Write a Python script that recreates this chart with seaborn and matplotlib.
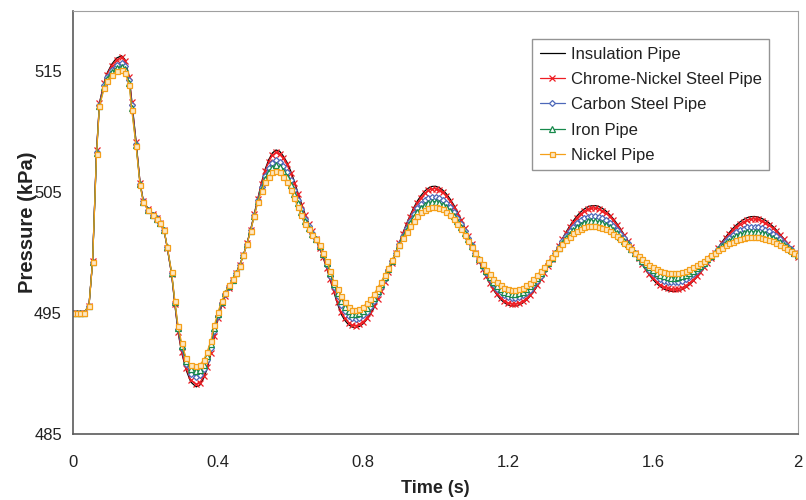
import matplotlib
matplotlib.use("Agg")
import matplotlib.pyplot as plt
import seaborn as sns

# ---- data ----
time_s = [
    0.0, 0.01, 0.02, 0.03, 0.044, 0.054, 0.065, 0.073, 0.086, 0.093,
    0.107, 0.12, 0.134, 0.143, 0.155, 0.162, 0.174, 0.185, 0.194, 0.208,
    0.222, 0.231, 0.24, 0.251, 0.26, 0.272, 0.281, 0.29, 0.30, 0.312, 0.325,
    0.34, 0.35, 0.36, 0.37, 0.38, 0.39, 0.40, 0.41, 0.42, 0.43,
    0.44, 0.45, 0.46, 0.47, 0.48, 0.49, 0.50, 0.51, 0.52, 0.53,
    0.54, 0.55, 0.56, 0.57, 0.58, 0.59, 0.60, 0.61, 0.62, 0.63,
    0.64, 0.65, 0.66, 0.67, 0.68, 0.69, 0.70, 0.71, 0.72, 0.73,
    0.74, 0.75, 0.76, 0.77, 0.78, 0.79, 0.80, 0.81, 0.82, 0.83,
    0.84, 0.85, 0.86, 0.87, 0.88, 0.89, 0.90, 0.91, 0.92, 0.93,
    0.94, 0.95, 0.96, 0.97, 0.98, 0.99, 1.00, 1.01, 1.02, 1.03,
    1.04, 1.05, 1.06, 1.07, 1.08, 1.09, 1.10, 1.11, 1.12, 1.13,
    1.14, 1.15, 1.16, 1.17, 1.18, 1.19, 1.20, 1.21, 1.22, 1.23,
    1.24, 1.25, 1.26, 1.27, 1.28, 1.29, 1.30, 1.31, 1.32, 1.33,
    1.34, 1.35, 1.36, 1.37, 1.38, 1.39, 1.40, 1.41, 1.42, 1.43,
    1.44, 1.45, 1.46, 1.47, 1.48, 1.49, 1.50, 1.51, 1.52, 1.53,
    1.54, 1.55, 1.56, 1.57, 1.58, 1.59, 1.60, 1.61, 1.62, 1.63,
    1.64, 1.65, 1.66, 1.67, 1.68, 1.69, 1.70, 1.71, 1.72, 1.73,
    1.74, 1.75, 1.76, 1.77, 1.78, 1.79, 1.80, 1.81, 1.82, 1.83,
    1.84, 1.85, 1.86, 1.87, 1.88, 1.89, 1.90, 1.91, 1.92, 1.93,
    1.94, 1.95, 1.96, 1.97, 1.98, 1.99, 2.00,
]

insulation = [
    495.0, 495.0, 495.0, 495.05, 495.6, 499.3, 508.5, 512.4, 514.1, 514.8,
    515.6, 516.1, 516.3, 516.0, 514.6, 512.6, 509.2, 505.8, 504.3, 503.6,
    503.2, 502.9, 502.5, 501.9, 500.4, 498.2, 495.7, 493.4, 491.7, 490.3, 489.3,
    488.9, 489.05, 489.6, 490.4, 491.6, 493.0, 494.5, 495.6, 496.4, 497.1,
    497.7, 498.3, 499.0, 499.8, 500.8, 501.9, 503.2, 504.5, 505.8, 506.9,
    507.7, 508.25, 508.5, 508.4, 508.0, 507.5, 506.8, 505.95, 505.0, 504.1,
    503.2, 502.45, 501.8, 501.1, 500.4, 499.6, 498.7, 497.7, 496.7, 495.75,
    494.9, 494.4, 494.05, 493.85, 493.8, 493.90, 494.11, 494.45, 494.89, 495.43,
    496.06, 496.77, 497.53, 498.33, 499.16, 500.0, 500.83, 501.63, 502.39, 503.09,
    503.73, 504.28, 504.73, 505.09, 505.34, 505.48, 505.50, 505.39, 505.18, 504.87,
    504.46, 503.97, 503.41, 502.78, 502.12, 501.42, 500.71, 500.0, 499.30, 498.63,
    498.01, 497.43, 496.92, 496.49, 496.13, 495.86, 495.68, 495.60, 495.60, 495.67,
    495.82, 496.06, 496.37, 496.76, 497.21, 497.71, 498.25, 498.82, 499.41, 500.0,
    500.59, 501.16, 501.70, 502.19, 502.64, 503.03, 503.36, 503.61, 503.79, 503.88,
    503.90, 503.83, 503.68, 503.46, 503.17, 502.83, 502.43, 501.99, 501.51, 501.02,
    500.51, 500.0, 499.50, 499.02, 498.57, 498.15, 497.78, 497.46, 497.20, 497.00,
    496.87, 496.80, 496.80, 496.84, 496.95, 497.11, 497.34, 497.62, 497.94, 498.30,
    498.70, 499.12, 499.56, 500.0, 500.44, 500.87, 501.28, 501.66, 502.00, 502.30,
    502.55, 502.75, 502.90, 502.98, 503.00, 502.95, 502.84, 502.68, 502.46, 502.20,
    501.89, 501.55, 501.19, 500.80, 500.40, 500.0, 499.60,
]

chrome_nickel = [
    495.0, 495.0, 495.0, 495.05, 495.6, 499.29, 508.46, 512.36, 514.04, 514.73,
    515.49, 515.97, 516.16, 515.87, 514.52, 512.5, 509.15, 505.78, 504.29, 503.59,
    503.19, 502.89, 502.5, 501.9, 500.41, 498.22, 495.74, 493.46, 491.8, 490.42, 489.47,
    489.1, 489.25, 489.78, 490.57, 491.73, 493.12, 494.57, 495.65, 496.44, 497.12,
    497.71, 498.3, 498.99, 499.8, 500.79, 501.89, 503.18, 504.46, 505.72, 506.77,
    507.53, 508.06, 508.3, 508.19, 507.8, 507.3, 506.61, 505.78, 504.86, 503.98,
    503.1, 502.39, 501.76, 501.1, 500.42, 499.64, 498.77, 497.8, 496.81, 495.9,
    495.08, 494.58, 494.22, 494.02, 493.97, 494.07, 494.28, 494.61, 495.04, 495.57,
    496.18, 496.87, 497.61, 498.38, 499.19, 500.0, 500.8, 501.58, 502.31, 502.99,
    503.6, 504.13, 504.56, 504.91, 505.15, 505.28, 505.3, 505.19, 504.99, 504.69,
    504.3, 503.82, 503.28, 502.68, 502.04, 501.37, 500.68, 500.0, 499.33, 498.68,
    498.08, 497.52, 497.03, 496.62, 496.27, 496.01, 495.83, 495.76, 495.76, 495.83,
    495.97, 496.21, 496.51, 496.89, 497.32, 497.80, 498.32, 498.87, 499.44, 500.0,
    500.56, 501.11, 501.62, 502.09, 502.52, 502.88, 503.2, 503.43, 503.6, 503.68,
    503.7, 503.63, 503.49, 503.28, 503.0, 502.68, 502.3, 501.88, 501.43, 500.96,
    500.48, 500.0, 499.53, 499.07, 498.65, 498.25, 497.9, 497.60, 497.35, 497.17,
    497.05, 496.98, 496.98, 497.02, 497.12, 497.28, 497.49, 497.76, 498.06, 498.40,
    498.78, 499.17, 499.59, 500.0, 500.41, 500.81, 501.2, 501.55, 501.87, 502.15,
    502.38, 502.57, 502.71, 502.78, 502.8, 502.75, 502.65, 502.50, 502.29, 502.05,
    501.76, 501.44, 501.11, 500.74, 500.37, 500.0, 499.63,
]

carbon_steel = [
    495.0, 495.0, 495.0, 495.05, 495.6, 499.25, 508.35, 512.25, 513.85, 514.5,
    515.15, 515.55, 515.7, 515.45, 514.25, 512.2, 509.0, 505.7, 504.25, 503.55,
    503.15, 502.85, 502.5, 501.9, 500.45, 498.3, 495.85, 493.65, 492.1, 490.8, 490.0,
    489.75, 489.9, 490.35, 491.1, 492.15, 493.5, 494.8, 495.8, 496.55, 497.2,
    497.75, 498.3, 498.95, 499.8, 500.75, 501.85, 503.1, 504.35, 505.45, 506.38,
    507.0, 507.45, 507.65, 507.53, 507.15, 506.68, 506.0, 505.23, 504.4, 503.6,
    502.8, 502.2, 501.65, 501.1, 500.5, 499.78, 499.0, 498.1, 497.15, 496.38,
    495.65, 495.15, 494.78, 494.58, 494.53, 494.62, 494.82, 495.13, 495.52, 496.0,
    496.56, 497.19, 497.85, 498.55, 499.28, 500.0, 500.72, 501.41, 502.06, 502.66,
    503.2, 503.66, 504.04, 504.33, 504.54, 504.64, 504.65, 504.56, 504.38, 504.12,
    503.78, 503.36, 502.89, 502.36, 501.8, 501.21, 500.61, 500.0, 499.41, 498.84,
    498.31, 497.82, 497.38, 497.02, 496.71, 496.48, 496.32, 496.25, 496.25, 496.32,
    496.46, 496.68, 496.95, 497.29, 497.67, 498.10, 498.55, 499.03, 499.52, 500.0,
    500.48, 500.94, 501.38, 501.77, 502.12, 502.43, 502.68, 502.86, 502.99, 503.05,
    503.05, 502.99, 502.88, 502.70, 502.47, 502.21, 501.89, 501.55, 501.18, 500.79,
    500.4, 500.0, 499.62, 499.24, 498.9, 498.58, 498.29, 498.05, 497.85, 497.70,
    497.6, 497.55, 497.55, 497.59, 497.68, 497.81, 497.99, 498.20, 498.45, 498.73,
    499.03, 499.35, 499.67, 500.0, 500.33, 500.64, 500.94, 501.22, 501.46, 501.68,
    501.86, 501.99, 502.09, 502.14, 502.15, 502.11, 502.03, 501.92, 501.76, 501.57,
    501.35, 501.10, 500.84, 500.57, 500.29, 500.0, 499.72,
]

iron = [
    495.0, 495.0, 495.0, 495.05, 495.6, 499.23, 508.28, 512.18, 513.72, 514.35,
    514.92, 515.27, 515.4, 515.17, 514.08, 512.0, 508.9, 505.65, 504.22, 503.52,
    503.12, 502.82, 502.5, 501.9, 500.48, 498.35, 495.93, 493.78, 492.3, 491.05, 490.35,
    490.18, 490.33, 490.73, 491.45, 492.43, 493.75, 494.95, 495.9, 496.63, 497.25,
    497.78, 498.3, 498.93, 499.8, 500.73, 501.83, 503.05, 504.28, 505.28, 506.11,
    506.65, 507.05, 507.23, 507.09, 506.73, 506.26, 505.6, 504.86, 504.1, 503.35,
    502.6, 502.08, 501.58, 501.1, 500.55, 499.86, 499.15, 498.3, 497.38, 496.69,
    496.03, 495.53, 495.14, 494.94, 494.89, 494.98, 495.18, 495.46, 495.84, 496.29,
    496.81, 497.39, 498.01, 498.66, 499.33, 500.0, 500.66, 501.29, 501.89, 502.44,
    502.93, 503.35, 503.69, 503.95, 504.13, 504.22, 504.23, 504.15, 503.98, 503.75,
    503.43, 503.06, 502.62, 502.14, 501.63, 501.10, 500.55, 500.0, 499.46, 498.95,
    498.46, 498.01, 497.61, 497.28, 497.0, 496.78, 496.64, 496.58, 496.58, 496.65,
    496.78, 496.98, 497.24, 497.55, 497.9, 498.29, 498.7, 499.13, 499.57, 500.0,
    500.43, 500.83, 501.21, 501.55, 501.86, 502.12, 502.33, 502.49, 502.59, 502.64,
    502.63, 502.57, 502.47, 502.32, 502.12, 501.89, 501.62, 501.32, 501.01, 500.68,
    500.34, 500.0, 499.67, 499.35, 499.06, 498.79, 498.55, 498.34, 498.17, 498.04,
    497.97, 497.92, 497.93, 497.97, 498.04, 498.15, 498.31, 498.49, 498.71, 498.94,
    499.19, 499.46, 499.73, 500.0, 500.27, 500.53, 500.77, 500.99, 501.19, 501.36,
    501.51, 501.61, 501.69, 501.72, 501.73, 501.69, 501.63, 501.53, 501.4, 501.25,
    501.07, 500.88, 500.67, 500.45, 500.23, 500.0, 499.78,
]

nickel = [
    495.0, 495.0, 495.0, 495.05, 495.6, 499.2, 508.2, 512.1, 513.6, 514.2,
    514.7, 515.0, 515.1, 514.9, 513.9, 511.8, 508.8, 505.6, 504.2, 503.5,
    503.1, 502.8, 502.5, 501.9, 500.5, 498.4, 496.0, 493.9, 492.5, 491.3, 490.7,
    490.6, 490.75, 491.1, 491.8, 492.7, 494.0, 495.1, 496.0, 496.7, 497.3,
    497.8, 498.3, 498.9, 499.8, 500.7, 501.8, 503.0, 504.2, 505.1, 505.85,
    506.3, 506.65, 506.8, 506.65, 506.3, 505.85, 505.2, 504.5, 503.8, 503.1,
    502.4, 501.95, 501.5, 501.1, 500.6, 499.95, 499.3, 498.5, 497.6, 497.0,
    496.4, 495.9, 495.5, 495.3, 495.25, 495.34, 495.53, 495.80, 496.15, 496.57,
    497.06, 497.60, 498.17, 498.77, 499.39, 500.0, 500.60, 501.18, 501.72, 502.22,
    502.66, 503.04, 503.34, 503.57, 503.73, 503.80, 503.80, 503.73, 503.58, 503.37,
    503.09, 502.75, 502.36, 501.93, 501.47, 500.99, 500.50, 500.0, 499.51, 499.05,
    498.61, 498.20, 497.84, 497.54, 497.29, 497.09, 496.96, 496.90, 496.90, 496.97,
    497.10, 497.29, 497.53, 497.81, 498.13, 498.48, 498.85, 499.23, 499.62, 500.0,
    500.37, 500.72, 501.05, 501.34, 501.60, 501.82, 501.99, 502.11, 502.19, 502.22,
    502.20, 502.15, 502.07, 501.94, 501.77, 501.58, 501.35, 501.10, 500.84, 500.56,
    500.28, 500.0, 499.73, 499.46, 499.22, 499.00, 498.80, 498.63, 498.49, 498.39,
    498.33, 498.29, 498.30, 498.34, 498.40, 498.50, 498.63, 498.78, 498.96, 499.15,
    499.35, 499.57, 499.78, 500.0, 500.21, 500.41, 500.60, 500.77, 500.92, 501.05,
    501.16, 501.23, 501.28, 501.30, 501.30, 501.27, 501.22, 501.15, 501.05, 500.93,
    500.80, 500.65, 500.49, 500.33, 500.17, 500.0, 499.84,
]

series_names = ["Insulation Pipe", "Chrome-Nickel Steel Pipe", "Carbon Steel Pipe",
                "Iron Pipe", "Nickel Pipe"]
series_values = [insulation, chrome_nickel, carbon_steel, iron, nickel]

x_ticks = [0, 0.4, 0.8, 1.2, 1.6, 2.0]
x_tick_labels = ["0", "0.4", "0.8", "1.2", "1.6", "2"]
y_ticks = [485, 495, 505, 515]

# ---- styling ----
sns.set_style("white")
plt.rcParams['font.family'] = ['Liberation Sans', 'DejaVu Sans']

colors = ["#000000", "#ee1d23", "#4d68b9", "#17894b", "#f5a01a"]
marker_kw = [
    dict(),
    dict(marker="x", markersize=4.0, markeredgewidth=0.9),
    dict(marker="D", markersize=3.0, markerfacecolor="white", markeredgewidth=0.9),
    dict(marker="^", markersize=4.0, markerfacecolor="white", markeredgewidth=0.9),
    dict(marker="s", markersize=3.6, markerfacecolor="#fde8c4", markeredgewidth=0.9),
]

W, H = 806, 500
fig = plt.figure(figsize=(W / 100, H / 100), dpi=100)
ax = fig.add_axes([73 / W, 1 - 434 / H, (798 - 73) / W, (434 - 11) / H])

for name, vals, col, mk in zip(series_names, series_values, colors, marker_kw):
    kw = dict(mk)
    if "marker" in kw:
        kw["markeredgecolor"] = col
    sns.lineplot(x=time_s, y=vals, ax=ax, color=col, linewidth=0.9,
                 estimator=None, sort=False, label=name, **kw)

ax.set_xlim(0, 2)
ax.set_ylim(485, 520)
ax.set_xticks(x_ticks)
ax.set_xticklabels(x_tick_labels)
ax.set_yticks(y_ticks)

for side in ["left", "bottom"]:
    ax.spines[side].set_color("#5a5a5a")
    ax.spines[side].set_linewidth(1.2)
for side in ["top", "right"]:
    ax.spines[side].set_color("#a0a0a0")
    ax.spines[side].set_linewidth(0.8)

ax.tick_params(axis="both", direction="out", length=4, width=1.0, color="#5a5a5a",
               labelsize=12, labelcolor="#222222")
ax.tick_params(axis="y", pad=4)
ax.tick_params(axis="x", pad=11)

ax.set_xlabel("Time (s)", fontsize=13, fontweight="bold", color="#222222")
ax.set_ylabel("Pressure (kPa)", fontsize=14.5, fontweight="bold", color="#222222")
ax.xaxis.set_label_coords(0.5, -0.108)
ax.yaxis.set_label_coords(-0.05, 0.5)

leg = ax.legend(loc="upper right", bbox_to_anchor=(769 / W, 1 - 39 / H),
                bbox_transform=fig.transFigure, borderaxespad=0, fontsize=12,
                frameon=True, fancybox=False, handlelength=1.5, handletextpad=0.35,
                labelspacing=0.62, borderpad=0.45, numpoints=1)
leg.get_frame().set_edgecolor("#7a7a7a")
leg.get_frame().set_linewidth(1.0)
for t in leg.get_texts():
    t.set_color("#222222")

fig.savefig("out.png", dpi=100)
